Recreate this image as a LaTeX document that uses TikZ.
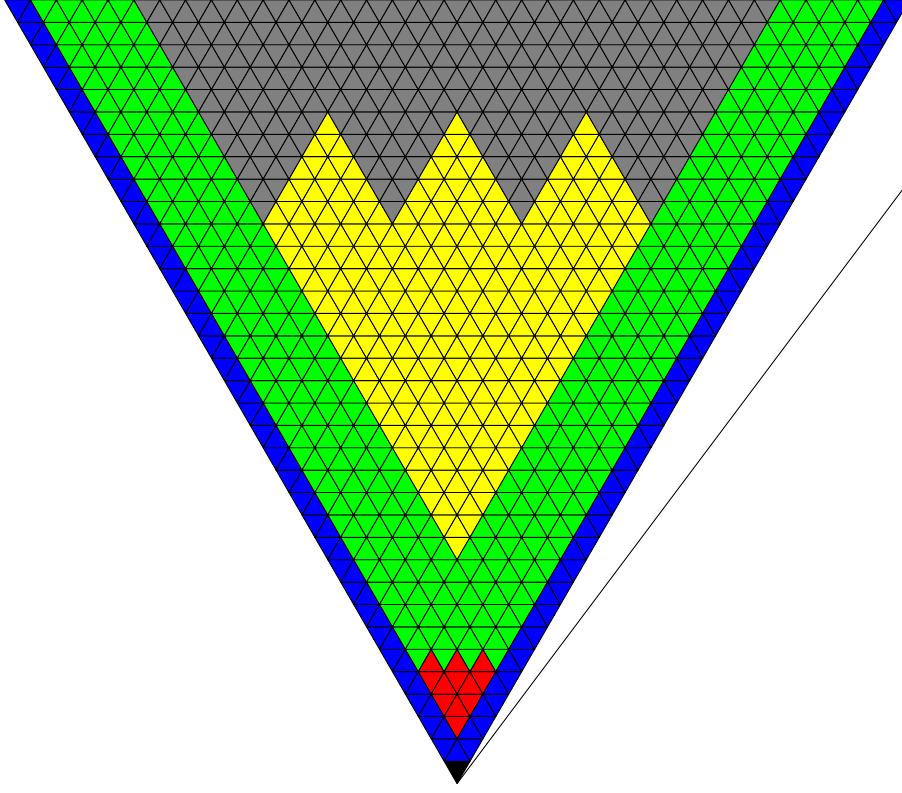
\documentclass[tikz,border=0pt]{standalone}
\usepackage{tikz}
\definecolor{cellyellow}{RGB}{255,255,0}
\definecolor{cellgreen}{RGB}{0,255,0}
\definecolor{cellgray}{RGB}{128,128,128}
\definecolor{cellblue}{RGB}{0,0,255}
\definecolor{cellred}{RGB}{255,0,0}
\tikzstyle{cell} = [draw=black, line width=0.5pt, line join=round]
\tikzstyle{ray}  = [draw=black, line width=0.5pt]
\newcommand{\rowh}{0.8660254}

\begin{document}
\begin{tikzpicture}[x=0.5cm, y=0.5cm]
  \clip (-17.68,-0.33) rectangle (17.21,30.31);
  \foreach \k in {0,...,34}{
    \pgfmathtruncatemacro{\pmax}{2*\k}
    \foreach \p in {0,...,\pmax}{
      \pgfmathtruncatemacro{\q}{\p-\k}
      \pgfmathtruncatemacro{\aq}{abs(\q)}
      \pgfmathtruncatemacro{\dyel}{min(\aq,abs(\q+10),abs(\q-10))}
      \pgfmathtruncatemacro{\dred}{min(\aq,abs(\q+2),abs(\q-2))}
      \pgfmathsetmacro{\xmid}{\q/2}
      \def\cellcol{cellgreen}
      \ifnum\k>9 \ifnum\aq<\numexpr\k-9\relax \def\cellcol{cellgray}\fi\fi
      \ifnum\k>9 \ifnum\k<25 \ifnum\aq<\numexpr\k-9\relax \def\cellcol{cellyellow}\fi\fi\fi
      \ifnum\k>24 \ifnum\dyel<\numexpr30-\k\relax \def\cellcol{cellyellow}\fi\fi
      \ifnum\k>1 \ifnum\k<5 \ifnum\aq<\numexpr\k-1\relax \def\cellcol{cellred}\fi\fi\fi
      \ifnum\k=5 \ifnum\dred=0 \def\cellcol{cellred}\fi\fi
      \ifnum\aq>\numexpr\k-2\relax \def\cellcol{cellblue}\fi
      \ifnum\k=0 \def\cellcol{black}\fi
      \ifodd\p
        \filldraw[cell, fill=\cellcol] (\xmid-0.5,\k*\rowh) -- (\xmid+0.5,\k*\rowh)
          -- (\xmid,\k*\rowh+\rowh) -- cycle;
      \else
        \filldraw[cell, fill=\cellcol] (\xmid-0.5,\k*\rowh+\rowh) -- (\xmid+0.5,\k*\rowh+\rowh)
          -- (\xmid,\k*\rowh) -- cycle;
      \fi
    }
  }
  \coordinate (apex) at (0,0);
  \coordinate (rayend) at (18,24);
  \draw[ray] (apex) -- (rayend);
\end{tikzpicture}
\end{document}
